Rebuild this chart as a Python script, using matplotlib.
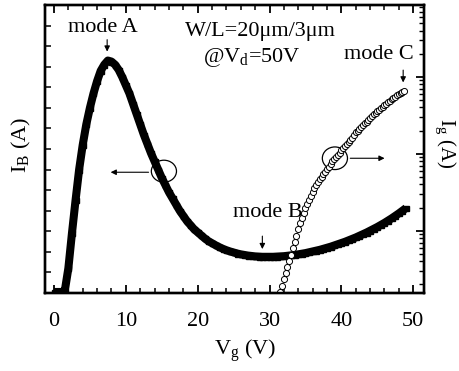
import numpy as np
import matplotlib
matplotlib.use("Agg")
import matplotlib.pyplot as plt
from matplotlib.patches import Ellipse
from matplotlib.ticker import MultipleLocator, LogLocator, NullFormatter

plt.rcParams["font.family"] = ["Liberation Serif", "DejaVu Serif"]
plt.rcParams["mathtext.fontset"] = "custom"
plt.rcParams["mathtext.rm"] = "Liberation Serif"
plt.rcParams["mathtext.it"] = "Liberation Serif:italic"

# I_B vs Vg (left axis, linear, arbitrary units)
vg_b = np.arange(0, 49.01, 0.5)
ib = [0.05, 0.05, 0.05, 0.1, 1.2, 2.9, 4.5, 6.0, 7.2, 8.2,
      9.0, 9.7, 10.3, 10.8, 11.1, 11.3, 11.25, 11.1, 10.85, 10.5,
      10.1, 9.7, 9.2, 8.7, 8.2, 7.7, 7.25, 6.8, 6.4, 6.0,
      5.6, 5.25, 4.9, 4.6, 4.3, 4.0, 3.75, 3.5, 3.3, 3.1,
      2.95, 2.8, 2.65, 2.52, 2.42, 2.32, 2.23, 2.15, 2.08, 2.02,
      1.97, 1.92, 1.88, 1.85, 1.82, 1.80, 1.78, 1.77, 1.76, 1.76,
      1.76, 1.76, 1.77, 1.78, 1.79, 1.81, 1.83, 1.85, 1.88, 1.91,
      1.94, 1.98, 2.02, 2.06, 2.10, 2.15, 2.20, 2.25, 2.31, 2.37,
      2.43, 2.49, 2.56, 2.63, 2.70, 2.78, 2.86, 2.94, 3.03, 3.12,
      3.21, 3.31, 3.41, 3.52, 3.63, 3.75, 3.87, 4.0, 4.13]

# I_g vs Vg (right axis, log10 of current)
vg_g = np.arange(31.5, 48.76, 0.25)
ig_log = [-10.792, -10.714, -10.623, -10.545, -10.468, -10.390, -10.312, -10.221,
          -10.143, -10.065, -9.974, -9.896, -9.831, -9.766, -9.701, -9.649,
          -9.597, -9.545, -9.494, -9.442, -9.403, -9.364, -9.325, -9.299,
          -9.260, -9.234, -9.195, -9.169, -9.130, -9.091, -9.065, -9.039,
          -9.013, -8.987, -8.948, -8.922, -8.896, -8.870, -8.844, -8.818,
          -8.792, -8.753, -8.714, -8.701, -8.675, -8.649, -8.623, -8.597,
          -8.584, -8.558, -8.532, -8.506, -8.481, -8.468, -8.442, -8.429,
          -8.403, -8.390, -8.364, -8.351, -8.325, -8.312, -8.286, -8.273,
          -8.260, -8.234, -8.221, -8.208, -8.195, -8.182]
ig = [10 ** v for v in ig_log]

fig = plt.figure(figsize=(4.59, 3.71), dpi=100)
ax = fig.add_axes([45 / 459, 78 / 371, 379 / 459, 288 / 371])
ax2 = ax.twinx()

ax.plot(vg_b, ib, color="black", lw=5.8, marker="s", markersize=3.6,
        solid_capstyle="butt", solid_joinstyle="round")
ax2.plot(vg_g, ig, linestyle="none", marker="o", markersize=4.4,
         markerfacecolor="white", markeredgecolor="black", markeredgewidth=0.7)

ax.set_xlim(-1.25, 51.5)
ax.set_ylim(0, 14)
ax2.set_ylim(1.55e-11, 8.6e-8)
ax2.set_yscale("log")

ax.xaxis.set_major_locator(MultipleLocator(10))
ax.xaxis.set_minor_locator(MultipleLocator(2))
ax.yaxis.set_major_locator(MultipleLocator(1))
ax.set_yticklabels([])
ax2.yaxis.set_major_locator(LogLocator(base=10, numticks=10))
ax2.yaxis.set_minor_locator(LogLocator(base=10, subs=np.arange(2, 10), numticks=20))
ax2.yaxis.set_major_formatter(NullFormatter())
ax2.yaxis.set_minor_formatter(NullFormatter())

ax.tick_params(axis="x", which="both", direction="in", top=True, labelsize=16, pad=14)
ax.tick_params(axis="x", which="major", length=6, width=1.3)
ax.tick_params(axis="x", which="minor", length=3.5, width=1.1)
ax.tick_params(axis="y", which="major", direction="in", left=True, right=False, length=4.5, width=1.1)
ax2.tick_params(axis="y", which="major", direction="in", length=6, width=1.3)
ax2.tick_params(axis="y", which="minor", direction="in", length=3.5, width=1.0)

for a in (ax, ax2):
    for s in a.spines.values():
        s.set_linewidth(1.7)

fig.text(245 / 459, 1 - 351 / 371, r"$\mathregular{V_g}$ (V)", ha="center", va="center", fontsize=16)
fig.text(21 / 459, 1 - 145 / 371, r"$\mathregular{I_B}$ (A)", ha="center", va="center",
         rotation=90, fontsize=16)
fig.text(445 / 459, 1 - 143 / 371, r"$\mathregular{I_g}$ (A)", ha="center", va="center",
         rotation=270, fontsize=15)

# annotations
txt = dict(ha="center", va="center", fontsize=16)
arr = dict(arrowstyle="-|>", color="black", lw=0.8, mutation_scale=8)
ax.text(6.8, 12.9, "mode A", **txt)
ax.annotate("", xy=(7.4, 11.6), xytext=(7.4, 12.45), arrowprops=arr)
ax.text(28.8, 12.72, "W/L=20μm/3μm", **txt)
ax.text(27.6, 11.46, r"@$\mathregular{V_d}$=50V", **txt)
ax.text(45.2, 11.6, "mode C", **txt)
ax.annotate("", xy=(48.6, 10.1), xytext=(48.6, 10.97), arrowprops=arr)
ax.text(29.8, 3.9, "mode B", **txt)
ax.annotate("", xy=(29.0, 2.0), xytext=(29.0, 2.9), arrowprops=arr)

ax.add_patch(Ellipse((15.3, 5.92), 3.5, 1.07, fill=False, lw=0.9, color="black", zorder=5))
ax.annotate("", xy=(7.5, 5.87), xytext=(13.55, 5.87), arrowprops=arr)
ax.add_patch(Ellipse((39.1, 6.55), 3.5, 1.1, fill=False, lw=0.9, color="black", zorder=5))
ax.annotate("", xy=(46.4, 6.55), xytext=(40.85, 6.55), arrowprops=arr)

fig.savefig("out.png", dpi=100)
